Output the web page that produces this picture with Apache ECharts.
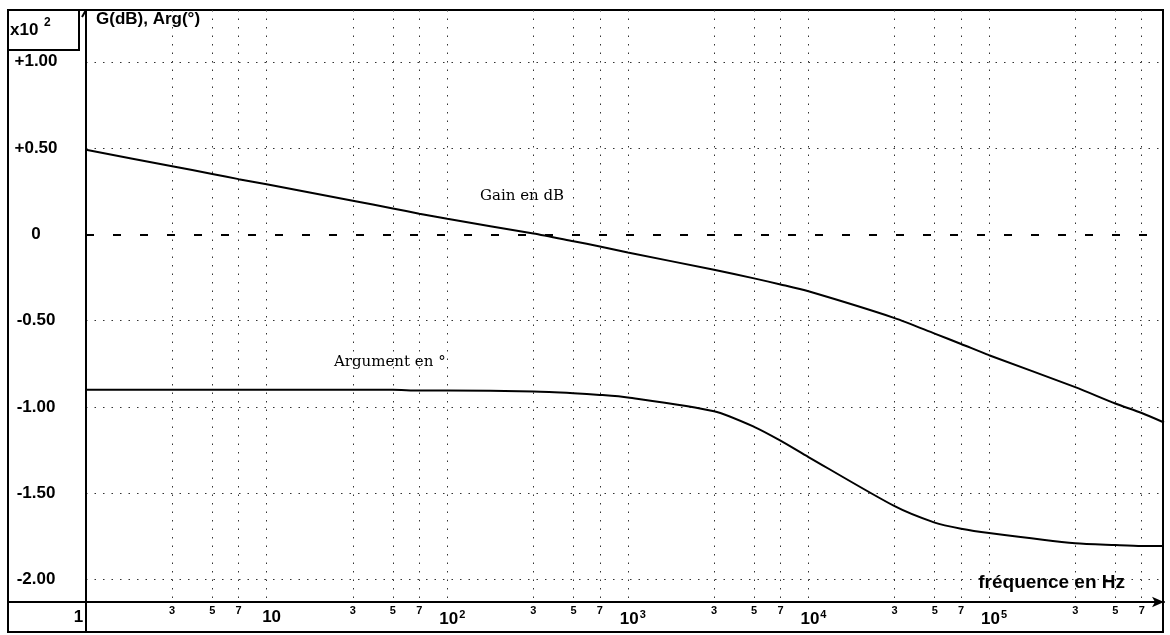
<!DOCTYPE html>
<html>
<head>
<meta charset="utf-8">
<script src="https://cdn.jsdelivr.net/npm/echarts@6/dist/echarts.min.js"></script>
<style>
  html, body { margin: 0; padding: 0; background: #fff; }
  #bode { width: 1170px; height: 635px; }
</style>
</head>
<body>
<div id="bode"></div>
<script>
var freq = [1, 3, 5, 7, 10, 30, 50, 70, 100, 300, 500, 700, 1e3, 3e3, 5e3, 7e3,
            1e4, 3e4, 5e4, 7e4, 1e5, 3e5, 5e5, 7e5, 9.3e5];
// gain in dB
var gain = [49, 39.5, 35, 32, 29, 19.5, 15, 12, 9, 0.5, -4, -7, -10.5, -20.5, -25.5, -29,
            -33, -48.5, -57.5, -63.5, -70, -88.5, -98, -103.5, -109];
// argument in degrees
var phase = [-90, -90, -90, -90, -90, -90, -90, -90.5, -90.5, -91, -92, -93, -94.5, -102.5, -111.5, -119.5,
             -129, -157.5, -167, -170.5, -173, -179, -180, -180.5, -180.5];

// axis ticks
var decades = [1, 10, 100, 1e3, 1e4, 1e5];
var minorFreq = [3, 5, 7, 30, 50, 70, 300, 500, 700, 3e3, 5e3, 7e3, 3e4, 5e4, 7e4, 3e5, 5e5, 7e5];
var gridFreq = [3, 5, 7, 10, 30, 50, 70, 100, 300, 500, 700, 1e3, 3e3, 5e3, 7e3, 1e4, 3e4, 5e4, 7e4, 1e5, 3e5, 5e5, 7e5];
var yTicks = [-200, -150, -100, -50, 50, 100];
var yLabels = [-200, -150, -100, -50, 0, 50, 100];
var fMin = 1, fMax = 9.3e5;
var yMin = -213, yMax = 130;

var lg = function (f) { return Math.log10(f); };
var pairs = function (ys) {
    return freq.map(function (f, i) { return [lg(f), ys[i]]; });
};

var dotted = { color: '#333', width: 1, type: [1.5, 7] };

var myChart = echarts.init(document.getElementById('bode'));
myChart.setOption({
    animation: false,
    grid: { left: 86, right: 6, top: 10, bottom: 33 },
    xAxis: [
        {
            type: 'value',
            min: lg(fMin),
            max: lg(fMax),
            axisLine: { onZero: false, lineStyle: { color: '#000', width: 2 }, symbol: ['none', 'arrow'], symbolSize: [8, 12] },
            axisTick: { show: false, customValues: gridFreq.map(lg) },
            splitLine: { show: true, lineStyle: dotted },
            axisLabel: {
                customValues: decades.map(lg),
                margin: 7,
                color: '#000',
                formatter: function (v) {
                    var n = Math.round(v);
                    if (n === 0) return '{one|1}';
                    if (n === 1) return '{b|10}';
                    return '{b|10}{s|' + n + '}';
                },
                rich: {
                    one: { fontFamily: 'Liberation Sans', fontWeight: 'bold', fontSize: 17, padding: [0, 15, 0, 0] },
                    b: { fontFamily: 'Liberation Sans', fontWeight: 'bold', fontSize: 17, padding: [0, 0, 0, 10] },
                    s: { fontFamily: 'Liberation Sans', fontWeight: 'bold', fontSize: 11, padding: [0, 0, 9, 1] }
                }
            }
        },
        {
            type: 'value',
            min: lg(fMin),
            max: lg(fMax),
            position: 'bottom',
            axisLine: { show: false, onZero: false },
            axisTick: { show: false },
            splitLine: { show: false },
            axisLabel: {
                customValues: minorFreq.map(lg),
                margin: 3,
                color: '#000',
                fontFamily: 'Liberation Sans',
                fontWeight: 'bold',
                fontSize: 11,
                formatter: function (v) {
                    return String(Math.round(Math.pow(10, v - Math.floor(v + 1e-9))));
                }
            }
        }
    ],
    yAxis: {
        type: 'value',
        min: yMin,
        max: yMax,
        axisLine: { show: true, onZero: false, lineStyle: { color: '#000', width: 2 } },
        axisTick: { show: false, customValues: yTicks },
        splitLine: { show: true, lineStyle: dotted },
        axisLabel: {
            customValues: yLabels,
            align: 'center',
            margin: 50,
            color: '#000',
            fontFamily: 'Liberation Sans',
            fontWeight: 'bold',
            fontSize: 17,
            formatter: function (v) {
                if (v === 0) return '0';
                return (v > 0 ? '+' : '') + (v / 100).toFixed(2);
            }
        }
    },
    graphic: [
        { type: 'rect', shape: { x: 8, y: 10, width: 1155, height: 622 }, style: { fill: null, stroke: '#000', lineWidth: 2 } },
        { type: 'line', shape: { x1: 86, y1: 10, x2: 86, y2: 632 }, style: { stroke: '#000', lineWidth: 2 } },
        { type: 'line', shape: { x1: 8, y1: 602, x2: 86, y2: 602 }, style: { stroke: '#000', lineWidth: 2 } },
        { type: 'line', shape: { x1: 86, y1: 10, x2: 82, y2: 17 }, style: { stroke: '#000', lineWidth: 2 } },
        { type: 'rect', shape: { x: 8, y: 10, width: 71, height: 40 }, style: { fill: null, stroke: '#000', lineWidth: 2 } },
        { type: 'text', left: 10, top: 22, style: { text: 'x10', font: 'bold 17px "Liberation Sans"', fill: '#000' } },
        { type: 'text', left: 44, top: 17, style: { text: '2', font: 'bold 12px "Liberation Sans"', fill: '#000' } },
        { type: 'text', left: 96, top: 11, style: { text: 'G(dB), Arg(°)', font: 'bold 17px "Liberation Sans"', fill: '#000' } },
        { type: 'text', right: 45, top: 573, style: { text: 'fréquence en Hz', font: 'bold 19px "Liberation Sans"', fill: '#000' } },
        { type: 'text', left: 480, top: 189, style: { text: 'Gain en dB', font: '15px "DejaVu Serif"', fill: '#000' } },
        { type: 'text', left: 334, top: 355, style: { text: 'Argument en °', font: '15px "DejaVu Serif"', fill: '#000' } }
    ],
    series: [
        {
            name: 'Gain en dB',
            type: 'line',
            xAxisIndex: 0,
            data: pairs(gain),
            smooth: 0.25,
            showSymbol: false,
            lineStyle: { color: '#000', width: 2 },
            markLine: {
                silent: true,
                symbol: 'none',
                label: { show: false },
                lineStyle: { color: '#000', width: 2, type: [8, 19] },
                data: [{ yAxis: 0 }]
            }
        },
        {
            name: 'Argument en °',
            type: 'line',
            xAxisIndex: 0,
            data: pairs(phase),
            smooth: 0.25,
            showSymbol: false,
            lineStyle: { color: '#000', width: 2 }
        }
    ]
});
</script>
</body>
</html>
